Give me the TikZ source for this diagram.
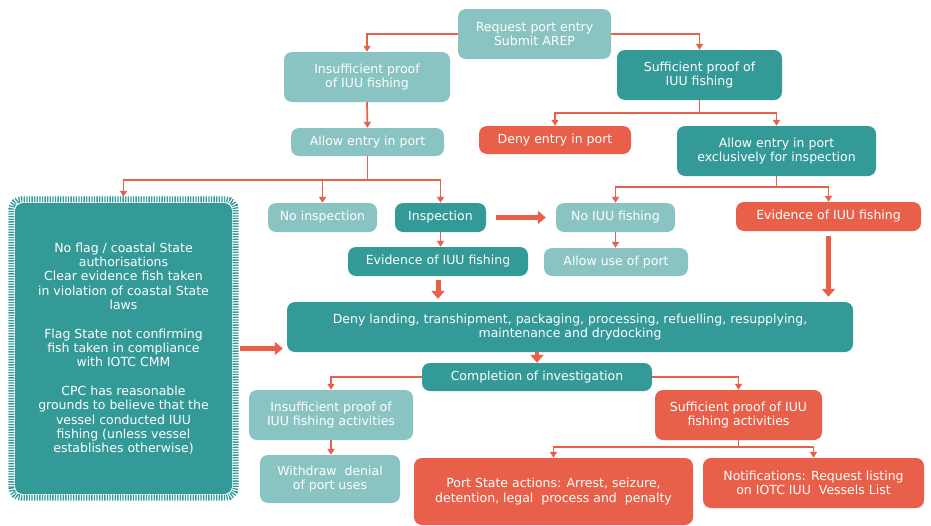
\documentclass[tikz,border=0pt]{standalone}
\usepackage{fontspec}
\setmainfont{DejaVu Sans}
\usetikzlibrary{arrows.meta}
\definecolor{lteal}{RGB}{138,196,194}
\definecolor{dteal}{RGB}{51,154,151}
\definecolor{iuured}{RGB}{233,96,74}
\tikzset{
  box/.style={rounded corners=8pt,text=white,align=center,inner sep=2pt,
              font=\fontsize{12.5}{14.4}\selectfont},
  light/.style={box,fill=lteal},
  dark/.style={box,fill=dteal},
  hot/.style={box,fill=iuured},
  link/.style={draw=iuured,line width=1.7pt,-{Triangle[length=6pt,width=7pt]}},
  push/.style={draw=iuured,line width=5pt,-{Triangle[length=8pt,width=13pt]}},
  frame/.style={draw=dteal,line width=6pt,dash pattern=on 1.3pt off 1.3pt,rounded corners=10pt},
}

\begin{document}
\begin{tikzpicture}[x=1pt,y=-1pt]
  \useasboundingbox (0,0) rectangle (931,525);
  % top of the tree
  \node[light,minimum width=153pt,minimum height=50pt] (req) at (534.5,34) {Request port entry\\Submit AREP};
  \node[light,minimum width=166pt,minimum height=50pt] (insuf) at (367,77) {Insufficient proof\\of IUU fishing};
  \node[dark,minimum width=165pt,minimum height=50pt] (suf) at (699.5,75) {Sufficient proof of\\IUU fishing};
  \node[light,minimum width=153pt,minimum height=28pt] (allow) at (367.5,142) {Allow entry in port};
  \node[hot,minimum width=152pt,minimum height=28pt] (deny) at (555,140) {Deny entry in port};
  \node[dark,minimum width=199pt,minimum height=50pt] (excl) at (776.5,151) {Allow entry in port\\exclusively for inspection};
  % left block with the grounds
  \node[dark,minimum width=217pt,minimum height=291pt] (flag) at (123.5,348.5)
    {No flag / coastal State\\authorisations\\Clear evidence fish taken\\in violation of coastal State\\laws\\[14pt]
     Flag State not confirming\\fish taken in compliance\\with IOTC CMM\\[14pt]
     CPC has reasonable\\grounds to believe that the\\vessel conducted IUU\\fishing (unless vessel\\establishes otherwise)};
  \draw[frame] ([shift={(-3.5,3.5)}]flag.south west) rectangle ([shift={(3.5,-3.5)}]flag.north east);
  % middle row
  \node[light,minimum width=109pt,minimum height=29pt] (noinsp) at (322.5,217.5) {No inspection};
  \node[dark,minimum width=91pt,minimum height=29pt] (insp) at (440.5,217.5) {Inspection};
  \node[light,minimum width=119pt,minimum height=29pt] (noiuu) at (615.5,217.5) {No IUU fishing};
  \node[hot,minimum width=185pt,minimum height=29pt] (evred) at (828.5,216.5) {Evidence of IUU fishing};
  \node[dark,minimum width=180pt,minimum height=29pt] (evdark) at (438,261.5) {Evidence of IUU fishing};
  \node[light,minimum width=144pt,minimum height=28pt] (useport) at (616,262) {Allow use of port};
  \node[dark,minimum width=566pt,minimum height=50pt] (denyland) at (570,327)
    {Deny landing, transhipment, packaging, processing, refuelling, resupplying,\\maintenance and drydocking};
  \node[dark,minimum width=230pt,minimum height=28pt] (compl) at (537,377) {Completion of investigation};
  % outcomes
  \node[light,minimum width=164pt,minimum height=50pt] (insact) at (331,415) {Insufficient proof of\\IUU fishing activities};
  \node[hot,minimum width=167pt,minimum height=50pt] (sufact) at (738.5,415) {Sufficient proof of IUU\\fishing activities};
  \node[light,minimum width=140pt,minimum height=48pt] (withdraw) at (330,479) {Withdraw\ \ denial\\of port uses};
  \node[hot,minimum width=279pt,minimum height=67pt] (psa) at (553.5,491.5)
    {Port State actions: Arrest, seizure,\\detention, legal\ \ process and\ \ penalty};
  \node[hot,minimum width=221pt,minimum height=50pt] (notif) at (813.5,483)
    {Notifications: Request listing\\on IOTC IUU\ \ Vessels List};
  % connectors
  \draw[link] (req.west) -| (insuf.north);
  \draw[link] (req.east) -| (suf.north);
  \draw[link] (insuf.south) -- (allow.north);
  \draw[link] (suf.south) -- ++(0,13) -| (deny.north);
  \draw[link] (suf.south) -- ++(0,13) -| (excl.north);
  \draw[link,shorten >=6pt] (allow.south) -- ++(0,24) -| (flag.north);
  \draw[link] (allow.south) -- ++(0,24) -| (noinsp.north);
  \draw[link] (allow.south) -- ++(0,24) -| (insp.north);
  \draw[link] (excl.south) -- ++(0,11) -| (noiuu.north);
  \draw[link] (excl.south) -- ++(0,11) -| (evred.north);
  \draw[link] (insp.south) -- (insp.south |- evdark.north);
  \draw[link] (noiuu.south) -- (noiuu.south |- useport.north);
  \draw[push,shorten <=10pt,shorten >=10pt] (insp.east) -- (insp.east -| noiuu.west);
  \draw[push,shorten <=4pt,shorten >=3pt] (evdark.south) -- (evdark.south |- denyland.north);
  \draw[push,shorten <=5pt,shorten >=5pt] (evred.south) -- (evred.south |- denyland.north);
  \draw[push,shorten <=8pt,shorten >=4pt] (flag.east) -- (flag.east -| denyland.west);
  \draw[push,line width=3.5pt] (denyland.south -| compl.north) -- (compl.north);
  \draw[link] (compl.west) -| (insact.north);
  \draw[link] (compl.east) -| (sufact.north);
  \draw[link] (insact.south) -- (insact.south |- withdraw.north);
  \draw[link] (sufact.south) -- ++(0,7) -| (psa.north);
  \draw[link] (sufact.south) -- ++(0,7) -| (notif.north);
\end{tikzpicture}
\end{document}
